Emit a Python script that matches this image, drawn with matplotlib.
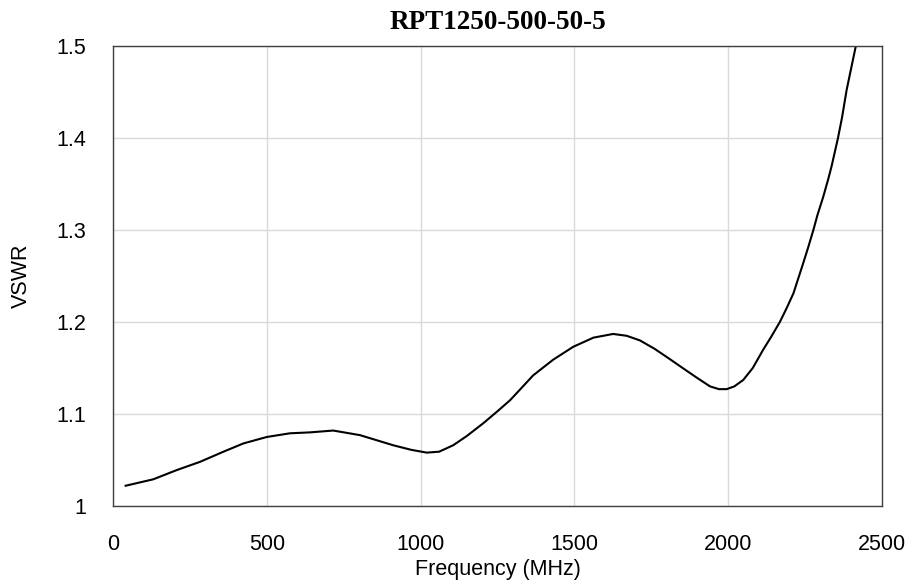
import matplotlib.pyplot as plt

# VSWR
freq_mhz = [41, 131, 207, 283, 359, 424, 500, 575, 640, 716, 803, 911, 970,
            1020, 1060, 1106, 1150, 1204, 1250, 1291, 1330, 1366, 1431, 1496,
            1562, 1626, 1670, 1713, 1760, 1800, 1865, 1900, 1941, 1970, 1995,
            2020, 2049, 2080, 2114, 2140, 2168, 2190, 2212, 2244, 2260, 2277,
            2290, 2309, 2325, 2336, 2357, 2370, 2385, 2400, 2415]
vswr = [1.022, 1.029, 1.039, 1.048, 1.059, 1.068, 1.075, 1.079, 1.080, 1.082,
        1.077, 1.066, 1.061, 1.058, 1.059, 1.066, 1.076, 1.090, 1.103, 1.115,
        1.129, 1.142, 1.159, 1.173, 1.183, 1.187, 1.185, 1.180, 1.171, 1.162,
        1.147, 1.139, 1.130, 1.127, 1.127, 1.130, 1.137, 1.150, 1.170, 1.184,
        1.200, 1.215, 1.231, 1.264, 1.281, 1.300, 1.316, 1.336, 1.355, 1.369,
        1.400, 1.422, 1.452, 1.476, 1.500]

x_ticks = [0, 500, 1000, 1500, 2000, 2500]
y_ticks = [1, 1.1, 1.2, 1.3, 1.4, 1.5]
y_tick_labels = ['1', '1.1', '1.2', '1.3', '1.4', '1.5']

plt.rcParams['font.family'] = ['Liberation Sans', 'DejaVu Sans']

fig = plt.figure(figsize=(9.07, 5.84), dpi=100)
ax = fig.add_axes([0.1246, 0.1336, 0.9724 - 0.1246, 0.9212 - 0.1336])

ax.plot(freq_mhz, vswr, color='black', linewidth=1.5)

ax.set_xlim(0, 2500)
ax.set_ylim(1, 1.5)
ax.set_xticks(x_ticks)
ax.set_yticks(y_ticks)
ax.set_yticklabels(y_tick_labels)
ax.tick_params(axis='both', length=0, labelsize=15.5, colors='black')
ax.tick_params(axis='x', pad=20)
ax.tick_params(axis='y', pad=19)
ax.grid(True, color='#d9d9d9', linewidth=1)
ax.set_axisbelow(True)
for side in ax.spines.values():
    side.set_color('#404040')
    side.set_linewidth(1)

ax.set_title('RPT1250-500-50-5', fontsize=19.5, fontweight='bold',
             family='Liberation Serif', pad=12)
ax.set_xlabel('Frequency (MHz)', fontsize=15.5, labelpad=3)
ax.set_ylabel('VSWR', fontsize=15.5, labelpad=18)

fig.savefig('out.png', dpi=100)
